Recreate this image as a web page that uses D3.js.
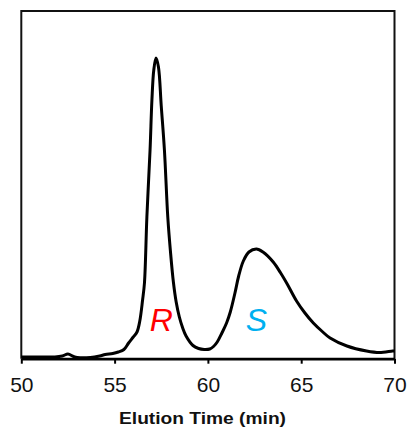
<!DOCTYPE html>
<html>
<head>
<meta charset="utf-8">
<script src="https://cdn.jsdelivr.net/npm/d3@7"></script>
<style>
  body { margin: 0; background: #fff; }
  svg { display: block; font-family: "Liberation Sans", Arial, sans-serif; }
</style>
</head>
<body>
<div class="chart"></div>
<script>
var svgWidth = 408;
var svgHeight = 427;

// chromatogram trace (signal in arbitrary units)
var times = [50.0, 51.0, 51.8, 52.2, 52.5, 52.8, 53.0, 53.7, 54.2, 54.5, 54.9, 55.2, 55.5, 55.75,
  56.0, 56.2, 56.35, 56.5, 56.6, 56.73, 56.9, 57.0, 57.1, 57.22, 57.35, 57.5, 57.67, 57.85,
  58.0, 58.15, 58.3, 58.47, 58.65, 58.83, 59.2, 59.5, 59.8, 60.1, 60.3, 60.5, 60.75, 61.0,
  61.2, 61.45, 61.65, 61.9, 62.2, 62.6, 62.95, 63.5, 63.9, 64.25, 64.75, 65.2, 65.65, 66.1,
  66.55, 67.45, 68.5, 69.2, 69.9, 70.0];
var signal = [1, 1, 1, 2, 4, 1.5, 0.5, 0.5, 2, 3.5, 4.5, 6, 8.5, 15,
  21, 26, 37, 58, 75, 141, 208, 258, 288, 300, 291, 252, 208, 141,
  105, 76, 56, 41, 30, 22, 12.5, 9.5, 8.5, 9, 11.5, 16, 25, 35,
  46, 65, 82, 97, 106, 109, 106, 96, 85, 74, 57, 45, 35, 27,
  20, 12, 7, 5.5, 7, 7];

var xTicks = [50, 55, 60, 65, 70];
var peakLabels = ["R", "S"];
var peakTimes = [57.5, 62.6];
var peakColors = ["#ff0000", "#00b0f0"];

var svg = d3.select(".chart")
  .append("svg")
  .attr("width", svgWidth)
  .attr("height", svgHeight);

var x = d3.scaleLinear().domain([50, 70]).range([21.3, 394.5]);
var y = d3.scaleLinear().domain([0, 347]).range([358, 11]);
var axisY = 358.7;

// frame (left, top, right)
svg.append("path")
  .attr("d", `M${x(50)},${axisY} V${y(347)} H${x(70)} V${axisY}`)
  .attr("fill", "none")
  .attr("stroke", "#111")
  .attr("stroke-width", 2);

// trace
var points = times.map(function(t, i) { return [t, signal[i]]; });
var line = d3.line()
  .x(function(d) { return x(d[0]); })
  .y(function(d) { return y(d[1]); })
  .curve(d3.curveCatmullRom.alpha(0.5));

svg.append("path")
  .datum(points)
  .attr("d", line)
  .attr("fill", "none")
  .attr("stroke", "#000")
  .attr("stroke-width", 3)
  .attr("stroke-linejoin", "round");

// x axis
var xAxis = d3.axisBottom(x)
  .tickValues(xTicks)
  .tickSize(5)
  .tickSizeOuter(0)
  .tickPadding(13);

var gx = svg.append("g")
  .attr("transform", `translate(0, ${axisY})`)
  .call(xAxis);
gx.select(".domain").attr("stroke", "#000").attr("stroke-width", 2.7);
gx.selectAll(".tick line").attr("stroke", "#000").attr("stroke-width", 2);
gx.selectAll(".tick text")
  .attr("fill", "#111")
  .style("font-size", "21px")
  .style("font-family", "'Liberation Sans', Arial, sans-serif");

// peak labels
svg.selectAll(".peak")
  .data(peakLabels)
  .enter().append("text")
  .attr("class", "peak")
  .attr("x", function(d, i) { return x(peakTimes[i]); })
  .attr("y", 330.5)
  .attr("text-anchor", "middle")
  .attr("fill", function(d, i) { return peakColors[i]; })
  .style("font-size", "32px")
  .style("font-style", "italic")
  .text(function(d) { return d; });

// axis label
svg.append("text")
  .attr("x", 202.5)
  .attr("y", 424)
  .attr("text-anchor", "middle")
  .attr("fill", "#111")
  .attr("textLength", 167)
  .attr("lengthAdjust", "spacingAndGlyphs")
  .style("font-size", "16px")
  .style("font-weight", "bold")
  .text("Elution Time (min)");
</script>
</body>
</html>
